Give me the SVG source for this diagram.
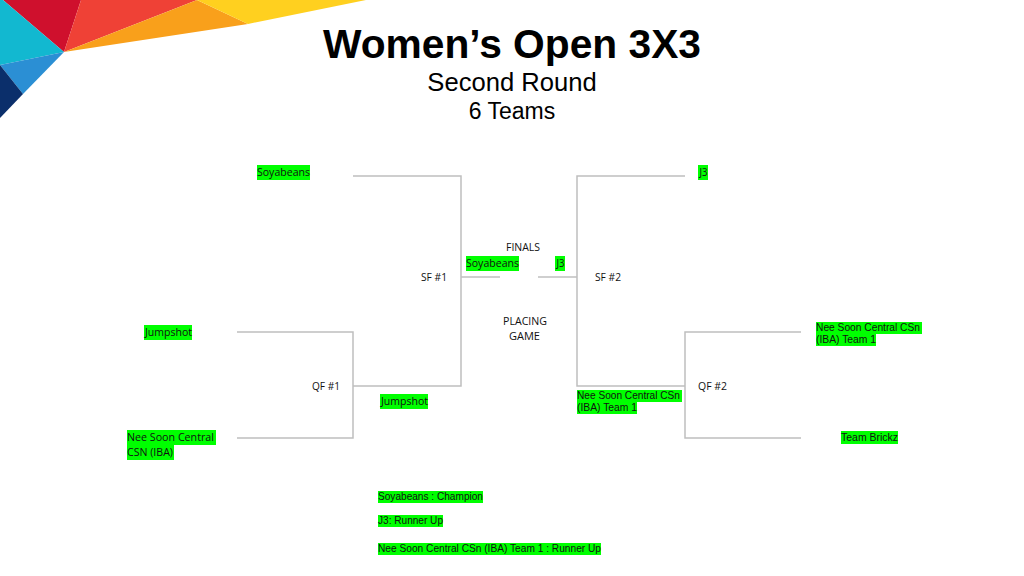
<svg xmlns="http://www.w3.org/2000/svg" width="1024" height="576" viewBox="0 0 1024 576">
<style>
text{font-family:"Liberation Sans",Arial,sans-serif;fill:#000}
.c{font-family:"Open Sans","Noto Sans",sans-serif;font-size:10.6px;fill:#111}
.a{font-size:10.6px;fill:#111}
.h{fill:#0f0}
.l{fill:none;stroke:#bfbfbf;stroke-width:1.5}
</style>
<rect width="1024" height="576" fill="#fff"/>
<g id="banner">
<polygon points="3,0 81,0 64,52" fill="#cf102d"/>
<polygon points="81,0 197,0 64,52" fill="#ef4136"/>
<polygon points="197,0 248,24 64,52" fill="#f9a01b"/>
<polygon points="197,0 366,0 248,24" fill="#ffd01f"/>
<polygon points="0,0 3,0 64,52 0,65" fill="#12b8d0"/>
<polygon points="0,65 64,52 23,94" fill="#2b8fd4"/>
<polygon points="0,65 23,94 0,118" fill="#0b2f6b"/>
</g>
<g id="title">
<text x="512" y="58" text-anchor="middle" font-size="40" font-weight="bold" textLength="378" lengthAdjust="spacingAndGlyphs">Women’s Open 3X3</text>
<text x="512" y="91" text-anchor="middle" font-size="25.6">Second Round</text>
<text x="512" y="119" text-anchor="middle" font-size="23">6 Teams</text>
</g>
<g id="connectors">
<path class="l" d="M353 176H461V386H353"/>
<path class="l" d="M237 332H353V438H237"/>
<path class="l" d="M461 277H500"/>
<path class="l" d="M685 176H577V386H685"/>
<path class="l" d="M801 332H685V438H801"/>
<path class="l" d="M577 277H538"/>
</g>
<g id="soyabeans-sf1"><rect class="h" x="257" y="165" width="53" height="15"/><text class="c" x="257" y="176" textLength="53" lengthAdjust="spacingAndGlyphs">Soyabeans</text></g>
<g id="j3-sf2"><rect class="h" x="698" y="165" width="10" height="15"/><text class="c" x="699.5" y="176" textLength="8" lengthAdjust="spacingAndGlyphs">J3</text></g>
<g id="finals"><text class="c" x="506" y="251" textLength="34" lengthAdjust="spacingAndGlyphs">FINALS</text></g>
<g id="soyabeans-final"><rect class="h" x="466" y="256" width="53" height="15"/><text class="c" x="466" y="267" textLength="53" lengthAdjust="spacingAndGlyphs">Soyabeans</text></g>
<g id="j3-final"><rect class="h" x="555" y="256" width="10" height="15"/><text class="c" x="556.5" y="267" textLength="8" lengthAdjust="spacingAndGlyphs">J3</text></g>
<g id="sf1"><text class="c" x="421" y="281" textLength="26" lengthAdjust="spacingAndGlyphs">SF #1</text></g>
<g id="sf2"><text class="c" x="595" y="281" textLength="26" lengthAdjust="spacingAndGlyphs">SF #2</text></g>
<g id="placing"><text class="c" x="503" y="325" textLength="44" lengthAdjust="spacingAndGlyphs">PLACING</text><text class="c" x="509" y="340" textLength="31" lengthAdjust="spacingAndGlyphs">GAME</text></g>
<g id="jumpshot-left"><rect class="h" x="144" y="325" width="48" height="15"/><text class="c" x="145" y="336" textLength="47" lengthAdjust="spacingAndGlyphs">Jumpshot</text></g>
<g id="qf1"><text class="c" x="312" y="390" textLength="28" lengthAdjust="spacingAndGlyphs">QF #1</text></g>
<g id="jumpshot-qf1"><rect class="h" x="380" y="394" width="48" height="15"/><text class="c" x="381" y="405" textLength="47" lengthAdjust="spacingAndGlyphs">Jumpshot</text></g>
<g id="nee-soon-csn"><rect class="h" x="127" y="430" width="89" height="15"/><rect class="h" x="127" y="445" width="47" height="15"/><text class="c" x="127" y="441" textLength="87" lengthAdjust="spacingAndGlyphs">Nee Soon Central</text><text class="c" x="127" y="456" textLength="46" lengthAdjust="spacingAndGlyphs">CSN (IBA)</text></g>
<g id="team1-qf2"><rect class="h" x="577" y="390" width="105" height="12"/><rect class="h" x="577" y="402" width="60" height="12"/><text class="a" x="577" y="399" textLength="103" lengthAdjust="spacingAndGlyphs">Nee Soon Central CSn</text><text class="a" x="577" y="411" textLength="60" lengthAdjust="spacingAndGlyphs">(IBA) Team 1</text></g>
<g id="qf2"><text class="c" x="698" y="390" textLength="29" lengthAdjust="spacingAndGlyphs">QF #2</text></g>
<g id="team1-right"><rect class="h" x="816" y="322" width="106" height="12"/><rect class="h" x="816" y="334" width="60" height="12"/><text class="a" x="816" y="331" textLength="104" lengthAdjust="spacingAndGlyphs">Nee Soon Central CSn</text><text class="a" x="816" y="343" textLength="60" lengthAdjust="spacingAndGlyphs">(IBA) Team 1</text></g>
<g id="team-brickz"><rect class="h" x="841" y="431" width="57" height="13"/><text class="a" x="841" y="441" textLength="57" lengthAdjust="spacingAndGlyphs">Team Brickz</text></g>
<g id="results">
<rect class="h" x="378" y="491" width="105" height="12"/><text class="a" x="378" y="500" textLength="105" lengthAdjust="spacingAndGlyphs">Soyabeans : Champion</text>
<rect class="h" x="378" y="515" width="65" height="12"/><text class="a" x="378" y="524" textLength="65" lengthAdjust="spacingAndGlyphs">J3: Runner Up</text>
<rect class="h" x="378" y="543" width="223" height="12"/><text class="a" x="378" y="552" textLength="223" lengthAdjust="spacingAndGlyphs">Nee Soon Central CSn (IBA) Team 1 : Runner Up</text>
</g>
</svg>
